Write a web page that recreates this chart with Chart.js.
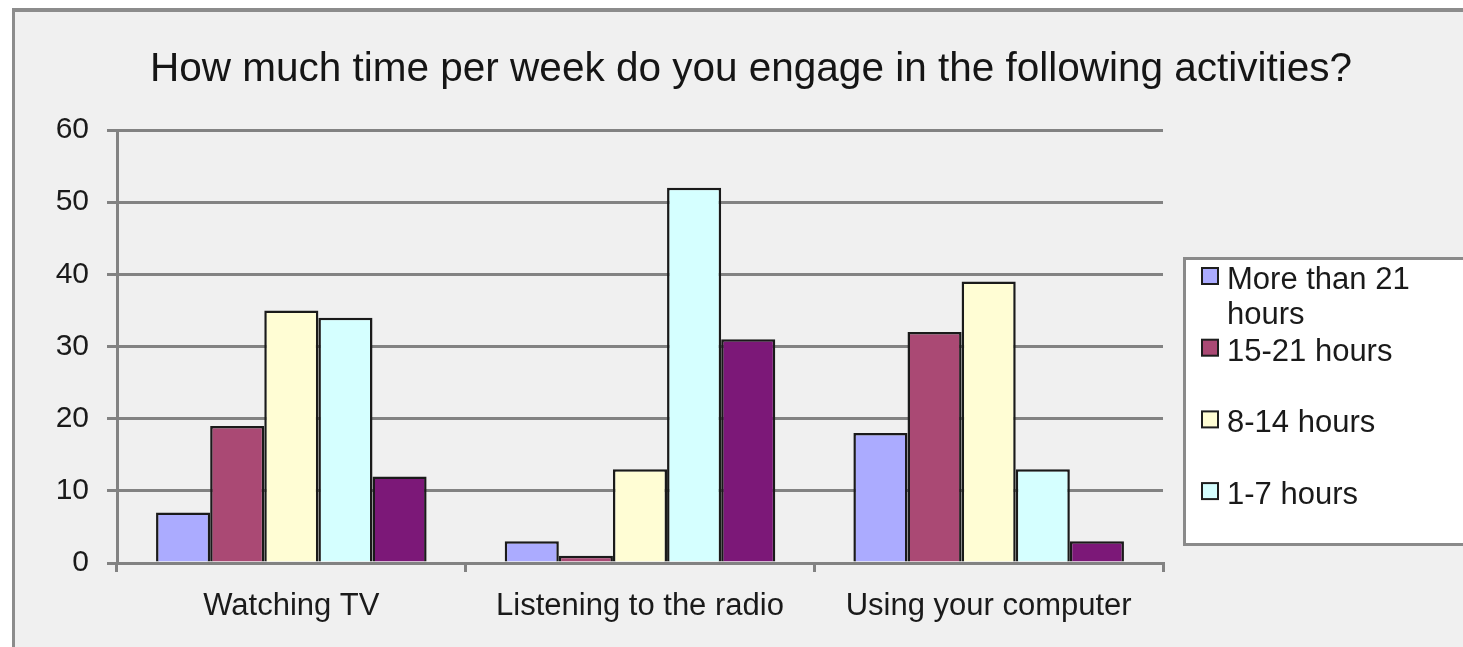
<!DOCTYPE html>
<html>
<head>
<meta charset="utf-8">
<title>Time per week</title>
<script src="https://cdn.jsdelivr.net/npm/chart.js@4.4.1/dist/chart.umd.min.js"></script>
<style>
  html, body { margin: 0; padding: 0; background: #fff; }
  #wrap { width: 1463px; height: 647px; position: relative; }
</style>
</head>
<body>
<div id="wrap"><canvas id="chart" width="1463" height="647"></canvas></div>
<script>
// data
const titleText = 'How much time per week do you engage in the following activities?';
const categories = ['Watching TV', 'Listening to the radio', 'Using your computer'];
const seriesLabels = ['More than 21 hours', '15-21 hours', '8-14 hours', '1-7 hours', 'Less than 1 hour'];
const moreThan21 = [7, 3, 18];
const hours15to21 = [19, 1, 32];
const hours8to14 = [35, 13, 39];
const hours1to7 = [34, 52, 13];
const lessThan1 = [12, 31, 3];
const yMin = 0, yMax = 60, yStep = 10;

const colors = ['#ABABFF', '#AA4974', '#FFFDD4', '#D5FFFF', '#7C1878'];
const FONT = "'Liberation Sans', Arial, sans-serif";
const GRID = '#828282';

const seriesValues = [moreThan21, hours15to21, hours8to14, hours1to7, lessThan1];

// frame + grey background
const backdrop = {
  id: 'backdrop',
  beforeDraw(chart) {
    const ctx = chart.ctx;
    ctx.save();
    ctx.fillStyle = '#ffffff';
    ctx.fillRect(0, 0, chart.width, chart.height);
    ctx.fillStyle = '#f0f0f0';
    ctx.fillRect(13, 10, chart.width, chart.height);
    ctx.strokeStyle = '#8c8c8c';
    ctx.lineWidth = 4;
    ctx.beginPath();
    ctx.moveTo(12, 10);
    ctx.lineTo(chart.width, 10);
    ctx.stroke();
    ctx.lineWidth = 3;
    ctx.beginPath();
    ctx.moveTo(13.5, 8);
    ctx.lineTo(13.5, chart.height);
    ctx.stroke();
    // title
    ctx.fillStyle = '#151515';
    ctx.font = '40.5px ' + FONT;
    ctx.textBaseline = 'alphabetic';
    ctx.textAlign = 'left';
    ctx.fillText(titleText, 150, 81);
    ctx.restore();
  }
};

// legend box on the right, cut off by the image edge like the original
const sideLegend = {
  id: 'sideLegend',
  afterDraw(chart) {
    const ctx = chart.ctx;
    const box = { x: 1184.5, y: 258.5, w: 300, h: 286 };
    ctx.save();
    ctx.fillStyle = '#ffffff';
    ctx.strokeStyle = '#8a8a8a';
    ctx.lineWidth = 3;
    ctx.fillRect(box.x, box.y, box.w, box.h);
    ctx.strokeRect(box.x, box.y, box.w, box.h);
    ctx.beginPath();
    ctx.rect(box.x + 2, box.y + 2, box.w, box.h - 4);
    ctx.clip();
    ctx.font = '31px ' + FONT;
    ctx.textAlign = 'left';
    ctx.textBaseline = 'alphabetic';
    const wrapW = 225;
    chart.data.datasets.forEach((ds, i) => {
      const base = 289 + i * 71.7;
      ctx.fillStyle = ds.backgroundColor;
      ctx.fillRect(1202, base - 21, 16, 16);
      ctx.strokeStyle = '#1e1e1e';
      ctx.lineWidth = 2;
      ctx.strokeRect(1202, base - 21, 16, 16);
      // simple word wrap
      const words = ds.label.split(' ');
      const lines = [];
      let line = '';
      words.forEach(w => {
        const t = line ? line + ' ' + w : w;
        if (ctx.measureText(t).width > wrapW && line) { lines.push(line); line = w; }
        else line = t;
      });
      lines.push(line);
      ctx.fillStyle = '#1a1a1a';
      lines.forEach((l, k) => ctx.fillText(l, 1227, base + k * 35));
    });
    ctx.restore();
  }
};

new Chart(document.getElementById('chart'), {
  type: 'bar',
  data: {
    labels: categories,
    datasets: seriesLabels.map((label, i) => ({
      label: label,
      data: seriesValues[i],
      backgroundColor: colors[i],
      borderColor: '#1a1a1a',
      borderWidth: 2.5,
      categoryPercentage: 0.776,
      barPercentage: 1.0
    }))
  },
  options: {
    responsive: false,
    animation: false,
    devicePixelRatio: 1,
    layout: { padding: { top: 130, right: 300, left: 0, bottom: 0 } },
    plugins: {
      legend: { display: false },
      title: { display: false },
      tooltip: { enabled: false }
    },
    scales: {
      x: {
        offset: true,
        afterFit(scale) { scale.height = 84; },
        grid: { offset: true, drawOnChartArea: false, drawTicks: true, tickLength: 9, color: GRID, lineWidth: 3 },
        border: { display: true, color: GRID, width: 3 },
        ticks: { color: '#1a1a1a', font: { family: FONT, size: 31 }, padding: 16, maxRotation: 0 }
      },
      y: {
        min: yMin,
        max: yMax,
        afterFit(scale) { scale.width = 117; },
        ticks: { stepSize: yStep, color: '#1a1a1a', font: { family: FONT, size: 30 }, padding: 18 },
        grid: { color: GRID, lineWidth: 3, drawTicks: true, tickLength: 10 },
        border: { display: true, color: GRID, width: 3 }
      }
    }
  },
  plugins: [backdrop, sideLegend]
});
</script>
</body>
</html>
